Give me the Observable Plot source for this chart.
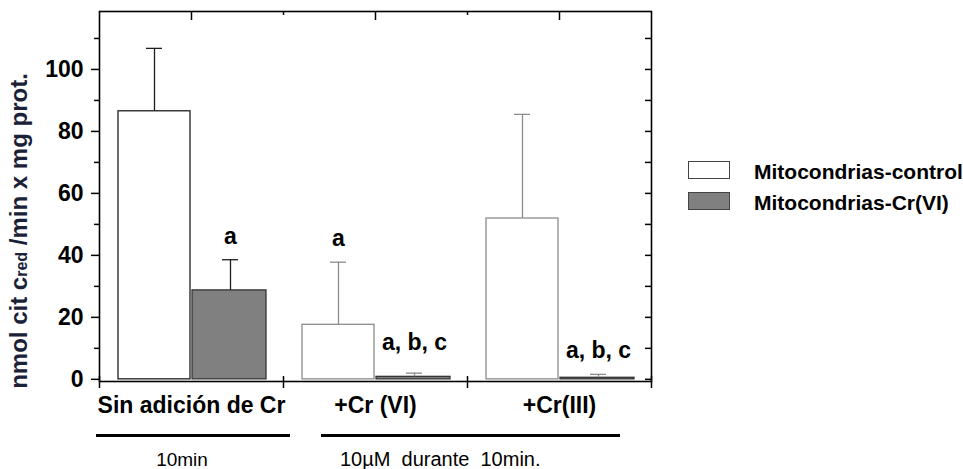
<!DOCTYPE html>
<html>
<head>
<meta charset="utf-8">
<script src="https://cdn.jsdelivr.net/npm/d3@7"></script>
<script src="https://cdn.jsdelivr.net/npm/@observablehq/plot@0.6"></script>
<style>
  html, body { margin: 0; padding: 0; background: #fff; }
  #wrap { position: relative; width: 963px; height: 469px; font-family: "Liberation Sans", Arial, sans-serif; overflow: hidden; }
  #wrap svg { position: absolute; left: 0; top: 0; }
  .abs { position: absolute; }
</style>
</head>
<body>
<div id="wrap"></div>
<script>
// ---- data ----
const groups = ["Sin adición de Cr", "+Cr (VI)", "+Cr(III)"];
const series = ["Mitocondrias-control", "Mitocondrias-Cr(VI)"];
const controlMean = [86.5, 17.6, 51.9];
const controlErr  = [20.3, 20.2, 33.6];
const crMean      = [28.7, 0.8, 0.5];
const crErr       = [9.9, 1.2, 1.1];
const annoGroup   = [0, 1, 1, 2];
const annoSeries  = [1, 0, 1, 1];
const annoText    = ["a", "a", "a, b, c", "a, b, c"];
const annoY       = [45.9, 45.5, 12.0, 9.4];
const yMajor = [0, 20, 40, 60, 80, 100];
const yMinor = [10, 30, 50, 70, 90, 110];
const yTitle = ["nmol cit c", "red", " /min x mg prot."];
const footLabels = ["10min", "10\u00B5M  durante  10min."];

// ---- tables ----
const control = groups.map((g, i) => ({group: g, value: controlMean[i], top: controlMean[i] + controlErr[i]}));
const cr = groups.map((g, i) => ({group: g, value: crMean[i], top: crMean[i] + crErr[i]}));
const annos = annoText.map((t, i) => ({group: groups[annoGroup[i]], series: annoSeries[i], text: t, y: annoY[i]}));

const W = 963, H = 469;
const mL = 99, mR = W - 651, mT = 11, mB = H - 381;
const plotW = W - mL - mR, plotH = H - mT - mB;
const band = plotW / groups.length;
const barW = 72, barPad = 19, gap = 2;
const off = barPad + barW / 2 - band / 2; // offset from band center to bar center (negative)
const capW = 16;
const font = "'Liberation Sans', Arial, sans-serif";
const dark = "#1e1e1e", light = "#8c8c8c";
const strokeFor = d => d.group === groups[0] ? dark : light;

const chart = Plot.plot({
  width: W, height: H,
  marginLeft: mL, marginRight: mR, marginTop: mT, marginBottom: mB,
  style: {fontFamily: font, background: "#fff", color: "#000"},
  x: {domain: groups, padding: 0, label: null},
  y: {domain: [-0.7, 118.7], label: null},
  marks: [
    // bars
    Plot.barY(control, {x: "group", y: "value", fill: "#fff", stroke: strokeFor, strokeWidth: 1.3,
      insetLeft: barPad, insetRight: band - barPad - barW}),
    Plot.barY(cr, {x: "group", y: "value", fill: "#808080", stroke: "#333", strokeWidth: 1.3,
      insetLeft: barPad + barW + gap, insetRight: barPad - gap}),
    // error bars
    Plot.ruleX(control, {x: "group", y1: "value", y2: "top", dx: off, stroke: strokeFor, strokeWidth: 1.3}),
    Plot.ruleX(cr, {x: "group", y1: "value", y2: "top", dx: -off + gap, stroke: strokeFor, strokeWidth: 1.3}),
    Plot.tickY(control, {x: "group", y: "top", stroke: strokeFor, strokeWidth: 1.3,
      insetLeft: band / 2 + off - capW / 2, insetRight: band / 2 - off - capW / 2}),
    Plot.tickY(cr, {x: "group", y: "top", stroke: strokeFor, strokeWidth: 1.3,
      insetLeft: band / 2 - off + gap - capW / 2, insetRight: band / 2 + off - gap - capW / 2}),
    // annotations
    Plot.text(annos.filter(d => d.series === 0), {x: "group", y: "y", text: "text", dx: off,
      fontSize: 23, fontWeight: "bold", fill: "#000", lineAnchor: "middle"}),
    Plot.text(annos.filter(d => d.series === 1), {x: "group", y: "y", text: "text", dx: -off + gap,
      fontSize: 23, fontWeight: "bold", fill: "#000", lineAnchor: "middle"}),
    // frame
    Plot.frame({stroke: "#000", strokeWidth: 1.6}),
    // y axis left (major + minor)
    Plot.axisY({ticks: yMajor, tickSize: 8, tickPadding: 8, fontSize: 23, fontWeight: "bold", strokeWidth: 1.5, label: null}),
    Plot.axisY({ticks: yMinor, tickSize: 5, text: null, strokeWidth: 1.5, label: null}),
    // right inner ticks
    Plot.ruleY(yMajor.concat(yMinor), {y: d => d, insetLeft: plotW - 6, stroke: "#000", strokeWidth: 1.5}),
    // top inner ticks: long at group centers, short at boundaries
    Plot.ruleX(groups, {x: d => d, insetBottom: plotH - 9, stroke: "#000", strokeWidth: 1.5}),
    Plot.ruleX(groups.slice(1), {x: d => d, dx: -band / 2, insetBottom: plotH - 4, stroke: "#000", strokeWidth: 1.5}),
    // bottom ticks at boundaries
    Plot.ruleX(groups, {x: d => d, dx: -band / 2, insetTop: plotH - 5, insetBottom: -7, stroke: "#000", strokeWidth: 1.5}),
    Plot.ruleX(groups.slice(-1), {x: d => d, dx: band / 2, insetTop: plotH - 5, insetBottom: -7, stroke: "#000", strokeWidth: 1.5}),
    // x axis labels
    Plot.axisX({anchor: "bottom", tickSize: 0, tickPadding: 15, fontSize: 23, fontWeight: "bold", label: null})
  ]
});

const wrap = document.getElementById("wrap");
wrap.appendChild(chart);

function add(html, css) {
  const d = document.createElement("div");
  d.className = "abs";
  d.innerHTML = html;
  Object.assign(d.style, css);
  wrap.appendChild(d);
  return d;
}

// y-axis title (rotated)
add(`${yTitle[0]}<span style="font-size:16px">${yTitle[1]}</span>${yTitle[2]}`, {
  left: "19px", top: "231px", transform: "translate(-50%,-50%) rotate(-90deg)",
  whiteSpace: "nowrap", fontSize: "24px", fontWeight: "bold", color: "#1b2238", lineHeight: "1"
});

// legend
const swFill = ["#fff", "#808080"];
const swStroke = ["#444", "#444"];
series.forEach((s, i) => {
  add("", {left: "688px", top: (161 + i * 31) + "px", width: "42px", height: "18px",
    background: swFill[i], border: "1.3px solid " + swStroke[i], boxSizing: "border-box"});
  add(s, {left: "754px", top: (171 + i * 31) + "px", transform: "translateY(-50%)",
    fontSize: "21px", fontWeight: "bold", whiteSpace: "nowrap", lineHeight: "1"});
});

// bottom brackets & captions
add("", {left: "96px", top: "434px", width: "194px", height: "3px", background: "#000"});
add("", {left: "321px", top: "434px", width: "299px", height: "3px", background: "#000"});
add(footLabels[0], {left: "182px", top: "459px", transform: "translate(-50%,-50%)", fontSize: "19px", whiteSpace: "pre", lineHeight: "1"});
add(footLabels[1], {left: "340px", top: "459px", transform: "translateY(-50%)", fontSize: "20px", whiteSpace: "pre", lineHeight: "1"});
</script>
</body>
</html>
